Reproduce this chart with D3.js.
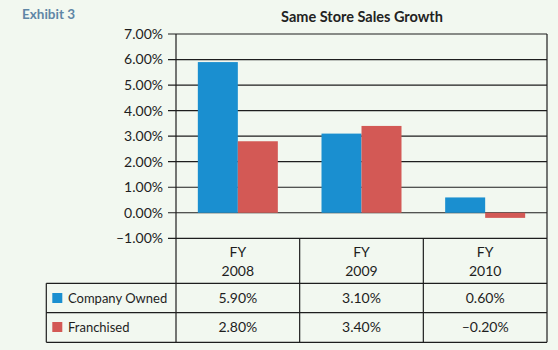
<!DOCTYPE html>
<html><head><meta charset="utf-8">
<script src="https://cdn.jsdelivr.net/npm/d3@7"></script>
<style>
html,body{margin:0;padding:0;background:#f2f8f0;}
svg{display:block;}
text{font-family:Lato,"Open Sans",sans-serif;}
</style></head><body>
<svg id="c" width="558" height="350"></svg>
<script>
const categories = ["2008", "2009", "2010"];
const seriesNames = ["Company Owned", "Franchised"];
const companyOwned = [5.90, 3.10, 0.60];
const franchised = [2.80, 3.40, -0.20];
const yTicks = [-1, 0, 1, 2, 3, 4, 5, 6, 7];
const colors = ["#1a8fd0", "#d35955"];

const svg = d3.select("#c");
const L = 176, R = 547, T = 34;
const y = d3.scaleLinear().domain([-1, 7]).range([238.3, T]);
const x = d3.scaleBand().domain(categories).range([L, R]);
const xs = d3.scaleBand().domain(seriesNames).range([0, 80]);
const series = [companyOwned, franchised];
const fmt = v => (v < 0 ? "\u2013" : "") + Math.abs(v).toFixed(2) + "%";
const ink = "#1e1e1e";

svg.append("text").attr("x", 22).attr("y", 19).attr("fill", "#5f86a6")
  .attr("font-weight", "bold").attr("font-size", 13.5).text("Exhibit 3");
svg.append("text").attr("x", 362).attr("y", 22).attr("text-anchor", "middle")
  .attr("fill", "#222").attr("font-weight", "bold").attr("font-size", 14.5)
  .text("Same Store Sales Growth");

svg.append("g").selectAll("line").data(yTicks).join("line")
  .attr("x1", 168).attr("x2", R).attr("y1", d => y(d)).attr("y2", d => y(d))
  .attr("stroke", ink).attr("stroke-width", 1.2);
svg.append("g").selectAll("text").data(yTicks).join("text")
  .attr("x", 163).attr("y", d => y(d)).attr("dy", "0.35em").attr("text-anchor", "end")
  .attr("font-size", 14).attr("fill", ink).text(d => fmt(d));

series.forEach((vals, si) => {
  svg.append("g").selectAll("rect").data(vals).join("rect")
    .attr("x", (d, i) => x(categories[i]) + x.bandwidth() / 2 - 40 + xs(seriesNames[si]))
    .attr("width", xs.bandwidth())
    .attr("y", d => y(Math.max(0, d)))
    .attr("height", d => Math.abs(y(d) - y(0)))
    .attr("fill", colors[si]);
});
svg.append("line").attr("x1", L).attr("x2", L).attr("y1", T).attr("y2", 342.3)
  .attr("stroke", ink).attr("stroke-width", 1.2);
svg.append("line").attr("x1", R).attr("x2", R).attr("y1", T).attr("y2", 342.3)
  .attr("stroke", ink).attr("stroke-width", 1.2);

const rowY = [238.3, 283.3, 312.7, 342.3];
const tg = svg.append("g");
[1, 2, 3].forEach(k => {
  tg.append("line").attr("x1", 46.3).attr("x2", R).attr("y1", rowY[k]).attr("y2", rowY[k]).attr("stroke", ink).attr("stroke-width", 1.2);
});
tg.append("line").attr("x1", 46.3).attr("x2", 46.3).attr("y1", rowY[1]).attr("y2", rowY[3]).attr("stroke", ink).attr("stroke-width", 1.2);
tg.selectAll("line.col").data(categories.slice(1)).join("line").attr("class", "col")
  .attr("x1", d => x(d)).attr("x2", d => x(d)).attr("y1", rowY[0]).attr("y2", rowY[3])
  .attr("stroke", ink).attr("stroke-width", 1.2);

categories.forEach(c => {
  const cx = x(c) + x.bandwidth() / 2;
  tg.append("text").attr("x", cx).attr("y", 252).attr("dy", "0.35em").attr("text-anchor", "middle")
    .attr("font-size", 14).attr("fill", ink).text("FY");
  tg.append("text").attr("x", cx).attr("y", 271).attr("dy", "0.35em").attr("text-anchor", "middle")
    .attr("font-size", 14).attr("fill", ink).text(c);
});
const rowMid = [298, 327];
series.forEach((vals, si) => {
  tg.append("rect").attr("x", 52.3).attr("y", rowMid[si] - 5).attr("width", 10).attr("height", 10).attr("fill", colors[si]);
  tg.append("text").attr("x", 68).attr("y", rowMid[si]).attr("dy", "0.35em")
    .attr("font-size", 13).attr("fill", ink).text(seriesNames[si]);
  vals.forEach((v, i) => {
    tg.append("text").attr("x", x(categories[i]) + x.bandwidth() / 2).attr("y", rowMid[si]).attr("dy", "0.35em")
      .attr("text-anchor", "middle").attr("font-size", 14).attr("fill", ink).text(fmt(v));
  });
});
</script></body></html>
